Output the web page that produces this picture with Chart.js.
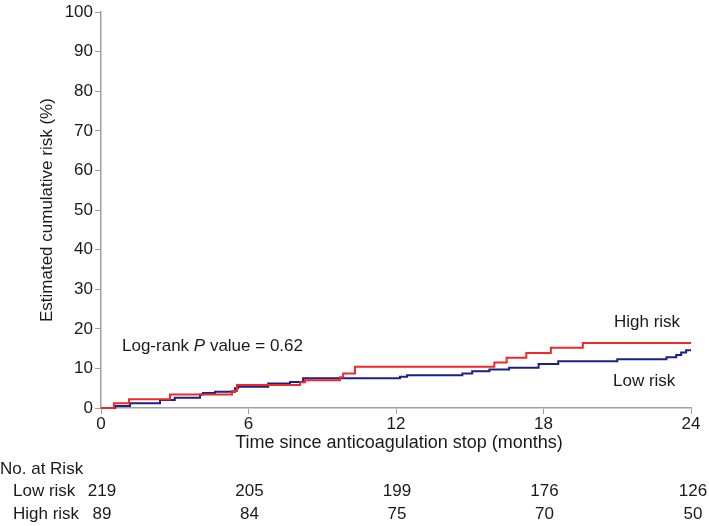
<!DOCTYPE html>
<html>
<head>
<meta charset="utf-8">
<script src="https://cdn.jsdelivr.net/npm/chart.js@4"></script>
<style>
  body { margin: 0; background: #fff; }
  #wrap { width: 709px; height: 526px; }
</style>
</head>
<body>
<div id="wrap"><canvas id="kmChart" width="709" height="526"></canvas></div>
<script>
// Kaplan-Meier step points (months, cumulative risk %)
const highTimes = [0, 0.53, 1.14, 2.81, 5.33, 5.53, 8.1, 8.3, 9.72, 9.85, 10.33, 16.0, 16.5, 17.3, 18.3, 19.6, 24];
const highRisk  = [0, 1.2, 2.2, 3.4, 4.3, 5.8, 6.5, 7.0, 7.8, 8.7, 10.4, 11.5, 12.7, 13.9, 15.2, 16.4, 16.4];

const lowTimes = [0, 0.57, 1.18, 2.4, 3.0, 4.03, 4.15, 4.64, 5.45, 5.57, 6.8, 7.69, 8.22, 12.16, 12.45, 14.7, 15.1, 15.8, 16.6, 17.8, 18.6, 21.0, 23.0, 23.4, 23.6, 23.8, 24];
const lowRisk  = [0, 0.5, 1.2, 2.0, 2.6, 3.4, 3.8, 4.1, 5.0, 5.4, 6.2, 6.6, 7.5, 7.9, 8.3, 8.7, 9.3, 9.7, 10.2, 11.1, 11.8, 12.3, 12.8, 13.4, 14.0, 14.6, 14.6];

// number at risk table
const riskTimes = [0, 6, 12, 18, 24];
const atRiskLow  = [219, 205, 199, 176, 126];
const atRiskHigh = [89, 84, 75, 70, 50];

const FONT = "'Liberation Sans', Arial, sans-serif";

function toPoints(xs, ys) {
    return xs.map((x, i) => ({ x: x, y: ys[i] }));
}

const extraText = {
    id: 'extraText',
    afterDraw(chart) {
        const ctx = chart.ctx;
        const xs = chart.scales.x;
        ctx.save();
        ctx.fillStyle = '#1a1a1a';
        ctx.textBaseline = 'middle';

        // x axis title
        ctx.font = '18px ' + FONT;
        ctx.textAlign = 'center';
        ctx.fillText('Time since anticoagulation stop (months)', (chart.chartArea.left + chart.chartArea.right) / 2 + 3, 443);

        // log-rank annotation with italic P
        ctx.textAlign = 'left';
        let x = 122;
        const y = 346;
        ctx.font = '17px ' + FONT;
        ctx.fillText('Log-rank ', x, y);
        x += ctx.measureText('Log-rank ').width;
        ctx.font = 'italic 17px ' + FONT;
        ctx.fillText('P', x, y);
        x += ctx.measureText('P').width;
        ctx.font = '17px ' + FONT;
        ctx.fillText(' value = 0.62', x, y);

        // curve labels
        ctx.fillText('High risk', 614, 322);
        ctx.fillText('Low risk', 613, 381);

        // number at risk
        ctx.fillText('No. at Risk', 0, 469);
        ctx.fillText('Low risk', 13, 491);
        ctx.fillText('High risk', 13, 514);

        ctx.textAlign = 'center';
        const rows = [[atRiskLow, 491], [atRiskHigh, 514]];
        rows.forEach(([vals, ry]) => {
            vals.forEach((v, i) => {
                const px = xs.getPixelForValue(riskTimes[i]);
                ctx.fillText(String(v), px + (i === vals.length - 1 ? 2 : 1), ry);
            });
        });
        ctx.restore();
    }
};

const ctx = document.getElementById('kmChart').getContext('2d');
const kmChart = new Chart(ctx, {
    type: 'line',
    data: {
        datasets: [
            {
                label: 'High risk',
                data: toPoints(highTimes, highRisk),
                borderColor: '#f02828',
                borderWidth: 2,
                stepped: 'before',
                pointRadius: 0,
                fill: false,
                clip: 4
            },
            {
                label: 'Low risk',
                data: toPoints(lowTimes, lowRisk),
                borderColor: '#1c1f86',
                borderWidth: 2,
                stepped: 'before',
                pointRadius: 0,
                fill: false,
                clip: 4
            }
        ]
    },
    options: {
        responsive: false,
        animation: false,
        layout: { padding: { left: 0, right: 18, top: 12, bottom: 0 } },
        plugins: {
            legend: { display: false },
            tooltip: { enabled: false }
        },
        scales: {
            x: {
                type: 'linear',
                min: 0,
                max: 24,
                afterFit(scale) { scale.height = 118; },
                grid: { drawOnChartArea: false, drawTicks: true, tickLength: 6, color: '#a0a0a0' },
                border: { color: '#a0a0a0', width: 1.5 },
                ticks: {
                    stepSize: 6,
                    padding: 0,
                    color: '#1a1a1a',
                    font: { family: FONT, size: 17 }
                }
            },
            y: {
                min: 0,
                max: 100,
                afterFit(scale) { scale.width = 101; },
                grid: { drawOnChartArea: false, drawTicks: true, tickLength: 6, color: '#a0a0a0' },
                border: { color: '#a0a0a0', width: 1.5 },
                ticks: {
                    stepSize: 10,
                    padding: 2,
                    color: '#1a1a1a',
                    font: { family: FONT, size: 17 }
                },
                title: {
                    display: true,
                    text: 'Estimated cumulative risk (%)',
                    color: '#1a1a1a',
                    font: { family: FONT, size: 17 },
                    padding: { top: 37, bottom: 0 }
                }
            }
        }
    },
    plugins: [extraText]
});
</script>
</body>
</html>
